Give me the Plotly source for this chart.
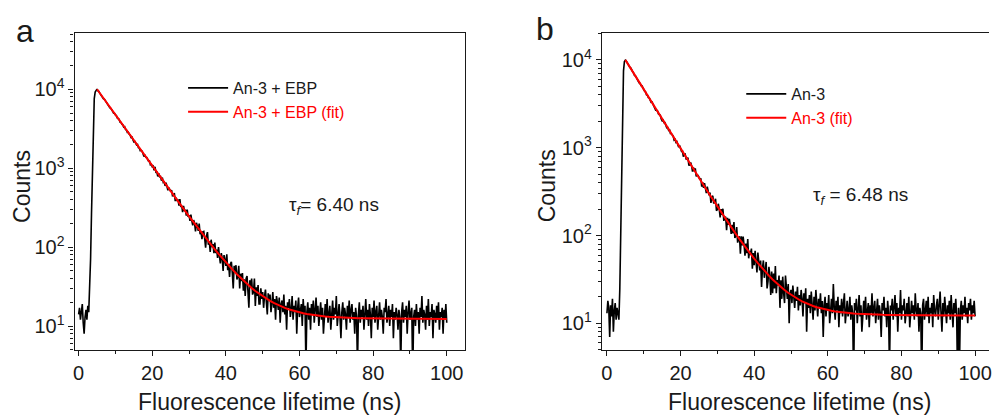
import plotly.graph_objects as go

W, H = 992, 416


def px(x):
    return x / W


def py(y):
    return 1 - y / H


# ---------------- data ----------------
# time-correlated counts, 0.25 ns bins from 0 to 100 ns
time_start_ns = 0.0
time_step_ns = 0.25

counts_a = [
    # 0 - 4.75 ns (baseline and rise)
    14, 17, 12, 15, 19, 11, 8, 13, 16, 12, 18, 15, 28, 70, 260, 1100, 4500, 7600, 9200, 9900,
    # 5.00 - 49.00 ns (decay)
    10050, 9555, 9413, 8926, 8513, 8362, 8001, 7556, 7491, 7166,
    6836, 6762, 6316, 6161, 5819, 5746, 5565, 5260, 4959, 4962,
    4726, 4633, 4339, 4217, 4164, 3843, 3805, 3617, 3554, 3314,
    3362, 3095, 3030, 2827, 2855, 2684, 2626, 2455, 2477, 2295,
    2159, 2193, 2087, 1975, 1999, 1819, 1794, 1667, 1682, 1636,
    1522, 1408, 1457, 1375, 1368, 1251, 1226, 1236, 1101, 1117,
    1045, 1065, 937, 1041, 887, 894, 786, 865, 779, 785,
    695, 761, 660, 670, 596, 656, 578, 526, 569, 528,
    506, 527, 447, 450, 485, 383, 421, 383, 404, 335,
    407, 322, 335, 277, 333, 288, 298, 250, 298, 242,
    254, 215, 258, 215, 189, 220, 200, 158, 203, 184,
    161, 199, 146, 158, 126, 156, 158, 127, 98, 140,
    155, 107, 119, 87, 124, 100, 109, 84, 114, 84,
    93, 73, 100, 77, 62, 84, 73, 50, 79, 69,
    58, 81, 51, 61, 42, 62, 65, 47, 30, 58,
    48, 59, 39, 42, 58, 30, 46, 37, 47, 28,
    39, 24, 40, 43, 30, 17, 38, 31, 40, 25,
    27, 40, 18, 31, 24, 33, 19,
    # 49.25 - 100 ns (tail)
    19, 30, 22, 27, 17, 24, 29, 20, 14, 26, 21, 25, 15, 19, 27, 17, 22, 12, 24, 20,
    16, 23, 11, 19, 21, 15, 25, 14, 18, 9, 20, 17, 22, 13, 16, 24, 12, 18, 15, 21,
    8, 17, 23, 13, 16, 19, 10, 22, 14, 18, 3, 15, 20, 12, 17, 9, 19, 14, 21, 11,
    16, 23, 13, 18, 10, 15, 20, 12, 17, 8, 14, 19, 13, 22, 11, 16, 18, 9, 15, 21,
    12, 17, 14, 24, 10, 16, 19, 13, 7, 15, 20, 12, 17, 14, 9, 18, 13, 21, 11, 16,
    19, 12, 15, 8, 17, 13, 3, 14, 20, 11, 16, 13, 18, 9, 15, 22, 12, 16, 10, 19,
    14, 7, 17, 13, 21, 11, 15, 18, 9, 14, 20, 12, 16, 13, 8, 17, 15, 22, 11, 14,
    18, 10, 16, 13, 19, 7, 15, 12, 17, 14, 9, 16, 13, 3, 15, 20, 11, 16, 13, 18,
    8, 15, 21, 12, 14, 17, 2, 13, 16, 10, 19, 12, 15, 8, 17, 13, 24, 11, 16, 14,
    9, 18, 12, 22, 10, 15, 13, 19, 7, 16, 14, 11, 18, 12, 20, 9, 15, 13, 17, 8,
    16, 12, 19, 11,
]

counts_b = [
    # 0 - 4.75 ns
    13, 18, 15, 7, 16, 12, 19, 8, 14, 17, 11, 15, 13, 11, 25, 90, 600, 3200, 7500, 9600,
    # 5.00 - 49.75 ns
    9942, 9737, 9280, 8766, 8640, 8211, 8065, 7533, 7329, 7090,
    6631, 6592, 6238, 6131, 5808, 5488, 5416, 5117, 5096, 4711,
    4611, 4408, 4312, 3995, 3967, 3730, 3706, 3483, 3298, 3320,
    3132, 2965, 2921, 2678, 2672, 2617, 2428, 2369, 2346, 2131,
    2026, 2069, 1933, 1933, 1809, 1687, 1700, 1583, 1621, 1452,
    1442, 1372, 1360, 1224, 1247, 1152, 1174, 1084, 1014, 1058,
    990, 912, 936, 791, 842, 849, 743, 742, 771, 637,
    635, 679, 621, 536, 597, 537, 582, 472, 488, 485,
    461, 432, 449, 361, 406, 350, 395, 341, 304, 361,
    321, 286, 308, 235, 272, 284, 232, 239, 262, 192,
    198, 230, 202, 161, 200, 172, 202, 147, 160, 163,
    115, 159, 132, 155, 131, 104, 132, 106, 142, 94,
    99, 125, 83, 94, 98, 62, 98, 77, 97, 78,
    59, 81, 63, 91, 55, 67, 61, 71, 42, 63,
    46, 67, 50, 38, 64, 51, 40, 52, 26, 43,
    52, 33, 39, 50, 25, 30, 44, 35, 21, 39,
    22, 37, 25, 45, 22, 31, 27, 35, 15, 31,
    19, 34, 22, 17, 35, 26, 19, 28, 10, 22,
    # 50.00 - 100 ns
    24,
    17, 27, 20, 15, 23, 18, 26, 14, 21, 16, 24, 19, 12, 22, 17, 25, 8, 19, 15, 21,
    13, 23, 16, 11, 20, 14, 24, 17, 12, 19, 15, 22, 13, 18, 7, 16, 20, 12, 17, 14,
    21, 10, 16, 19, 13, 28, 15, 11, 18, 14, 20, 9, 16, 13, 19, 12, 17, 22, 10, 15,
    18, 12, 14, 20, 11, 16, 13, 2, 17, 14, 19, 10, 15, 21, 12, 16, 8, 14, 18, 13,
    20, 11, 15, 17, 9, 16, 13, 22, 12, 15, 18, 10, 14, 19, 11, 16, 13, 7, 17, 14,
    20, 12, 15, 9, 18, 13, 3, 16, 14, 19, 11, 15, 21, 12, 17, 8, 15, 13, 24, 11,
    16, 14, 19, 10, 13, 17, 12, 20, 9, 15, 18, 13, 16, 11, 22, 14, 12, 17, 8, 15,
    13, 2, 16, 19, 11, 14, 18, 12, 20, 10, 15, 13, 17, 9, 21, 14, 12, 16, 19, 11,
    15, 23, 13, 8, 17, 12, 20, 14, 10, 16, 13, 18, 11, 21, 14, 9, 17, 13, 19, 12,
    2, 15, 3, 14, 18, 11, 16, 13, 20, 12, 15, 10, 17, 14, 19, 11, 16, 13, 18, 12,
]

# fitted curves, 1 ns steps from 5 to 100 ns
fit_start_ns = 5.0
fit_step_ns = 1.0

fit_a = [
    10012, 8615, 7414, 6380, 5491, 4726, 4068, 3501, 3014, 2595,
    2234, 1924, 1657, 1427, 1230, 1060, 913.7, 787.8, 679.5, 586.3,
    506.2, 437.2, 377.9, 326.8, 282.9, 245.1, 212.6, 184.6, 160.6, 139.9,
    122.0, 106.7, 93.5, 82.2, 72.4, 64.0, 56.8, 50.6, 45.2, 40.6,
    36.7, 33.3, 30.3, 27.8, 25.7, 23.8, 22.2, 20.8, 19.6, 18.6,
    17.7, 16.95, 16.3, 15.74, 15.26, 14.85, 14.49, 14.18, 13.92, 13.69,
    13.5, 13.33, 13.19, 13.06, 12.96, 12.87, 12.79, 12.72, 12.66, 12.61,
    12.57, 12.53, 12.5, 12.47, 12.45, 12.43, 12.41, 12.4, 12.38, 12.37,
    12.36, 12.35, 12.35, 12.34, 12.33, 12.33, 12.32, 12.32, 12.32, 12.31,
    12.31, 12.31, 12.31, 12.3, 12.3, 12.3,
]

fit_b = [
    10012, 8566, 7329, 6270, 5365, 4591, 3929, 3362, 2878, 2463,
    2109, 1805, 1546, 1324, 1134, 972, 833, 714.5, 613, 526,
    451.7, 388.2, 333.8, 287.3, 247.5, 213.5, 184.4, 159.5, 138.2, 120.0,
    104.4, 91.1, 79.7, 69.9, 61.6, 54.5, 48.4, 43.1, 38.7, 34.9,
    31.6, 28.8, 26.4, 24.4, 22.6, 21.1, 19.9, 18.8, 17.8, 17.0,
    16.35, 15.76, 15.26, 14.83, 14.47, 14.15, 13.88, 13.65, 13.46, 13.29,
    13.15, 13.02, 12.92, 12.83, 12.75, 12.69, 12.64, 12.59, 12.55, 12.52,
    12.49, 12.47, 12.45, 12.43, 12.41, 12.4, 12.39, 12.38, 12.37, 12.36,
    12.35, 12.34, 12.34, 12.33, 12.33, 12.32, 12.32, 12.32, 12.31, 12.31,
    12.31, 12.31, 12.3, 12.3, 12.3, 12.3,
]

names_a = ["An-3 + EBP", "An-3 + EBP (fit)"]
names_b = ["An-3", "An-3 (fit)"]
lifetime_a = "6.40"
lifetime_b = "6.48"

y_tickvals = [10, 100, 1000, 10000]
y_ticktext = ["10<sup>1</sup>", "10<sup>2</sup>", "10<sup>3</sup>", "10<sup>4</sup>"]
y_minor = [m * 10 ** e for e in range(0, 5) for m in range(2, 10)]

x_title = "Fluorescence lifetime (ns)"
y_title = "Counts"

# ---------------- figure ----------------
FONT = "Liberation Sans, Arial, Helvetica, sans-serif"
INK = "#1a1a1a"
RED = "#ff0000"

fig = go.Figure()

fig.add_trace(go.Scatter(
    x0=time_start_ns, dx=time_step_ns, y=counts_a, mode="lines",
    line=dict(color="black", width=1.6), name=names_a[0],
    xaxis="x", yaxis="y", legend="legend"))
fig.add_trace(go.Scatter(
    x0=fit_start_ns, dx=fit_step_ns, y=fit_a, mode="lines",
    line=dict(color=RED, width=2),
    name=f'<span style="color:{RED}">{names_a[1]}</span>',
    xaxis="x", yaxis="y", legend="legend"))
fig.add_trace(go.Scatter(
    x0=time_start_ns, dx=time_step_ns, y=counts_b, mode="lines",
    line=dict(color="black", width=1.6), name=names_b[0],
    xaxis="x2", yaxis="y2", legend="legend2"))
fig.add_trace(go.Scatter(
    x0=fit_start_ns, dx=fit_step_ns, y=fit_b, mode="lines",
    line=dict(color=RED, width=2),
    name=f'<span style="color:{RED}">{names_b[1]}</span>',
    xaxis="x2", yaxis="y2", legend="legend2"))

xcommon = dict(
    showline=True, linecolor=INK, linewidth=1.3, mirror=True,
    ticks="outside", ticklen=5, tickwidth=1.2, tickcolor=INK,
    tick0=0, dtick=20, showgrid=False, zeroline=False,
    tickfont=dict(size=20, color=INK, family=FONT),
    ticklabeloverflow="allow",
    minor=dict(dtick=10, ticks="outside", ticklen=3, tickwidth=1.2,
               tickcolor=INK, showgrid=False),
)
ycommon = dict(
    type="log", showline=True, linecolor=INK, linewidth=1.3,
    ticks="outside", ticklen=5, tickwidth=1.2, tickcolor=INK,
    tickmode="array", tickvals=y_tickvals, ticktext=y_ticktext,
    showgrid=False, zeroline=False,
    tickfont=dict(size=20, color=INK, family=FONT),
    minor=dict(tickmode="array", tickvals=y_minor, ticks="outside",
               ticklen=3, tickwidth=1, tickcolor=INK, showgrid=False),
)

legend_common = dict(
    xanchor="left", yanchor="top", bgcolor="rgba(0,0,0,0)", borderwidth=0,
    font=dict(size=16, color=INK, family=FONT), tracegroupgap=0, itemwidth=40,
)

fig.update_layout(
    width=W, height=H,
    margin=dict(l=0, r=0, t=0, b=0),
    paper_bgcolor="white", plot_bgcolor="white",
    font=dict(family=FONT, color=INK),
    xaxis=dict(xcommon, domain=[px(73), px(465)], range=[-1.08, 104.86],
               anchor="y"),
    yaxis=dict(ycommon, domain=[py(350), py(33)], range=[0.696, 4.713],
               mirror=True, anchor="x"),
    xaxis2=dict(xcommon, domain=[px(603), 1.0], range=[-1.35, 103.78],
                anchor="y2"),
    yaxis2=dict(ycommon, domain=[py(350), py(33)], range=[0.696, 4.307],
                mirror=False, anchor="x2"),
    legend=dict(legend_common, x=px(182), y=py(71)),
    legend2=dict(legend_common, x=px(743), y=py(77)),
    showlegend=True,
)

ann = []
# panel letters
ann.append(dict(text="a", x=px(23), y=py(31), font=dict(size=32)))
ann.append(dict(text="b", x=px(546), y=py(29), font=dict(size=32)))
# axis titles
ann.append(dict(text=y_title, x=px(20), y=py(186), textangle=-90, font=dict(size=23)))
ann.append(dict(text=y_title, x=px(548), y=py(186), textangle=-90, font=dict(size=23)))
ann.append(dict(text=x_title, x=px(269), y=py(402), font=dict(size=23)))
ann.append(dict(text=x_title, x=px(802), y=py(402), font=dict(size=23)))
# lifetimes
ann.append(dict(text=f"τ<sub><i>f</i></sub>= {lifetime_a} ns", x=px(286), y=py(206),
                xanchor="left", font=dict(size=19)))
ann.append(dict(text=f"τ<sub><i>f</i></sub> = {lifetime_b} ns", x=px(813), y=py(196),
                xanchor="left", font=dict(size=19)))
for a in ann:
    a.setdefault("xanchor", "center")
    a.update(xref="paper", yref="paper", yanchor="middle", showarrow=False)
    a["font"] = dict(a["font"], family=FONT, color=INK)
fig.update_layout(annotations=ann)

fig.write_html("out.html")
